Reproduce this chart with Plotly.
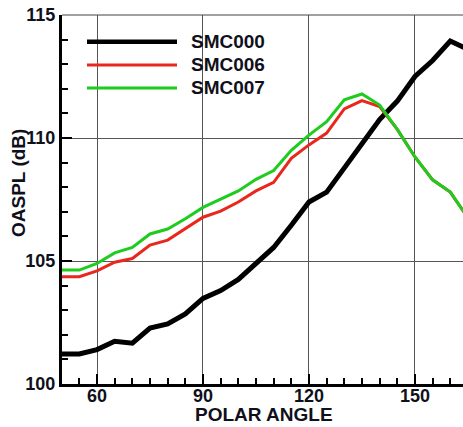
import plotly.graph_objects as go

polar_angle = [50, 55, 60, 65, 70, 75, 80, 85, 90, 95, 100, 105, 110, 115,
               120, 125, 130, 135, 140, 145, 150, 155, 160, 165]
smc000 = [101.22, 101.22, 101.4, 101.74, 101.66, 102.27, 102.44, 102.85, 103.48,
          103.8, 104.25, 104.9, 105.55, 106.45, 107.4, 107.8, 108.8, 109.8,
          110.75, 111.5, 112.5, 113.15, 113.94, 113.6]
smc006 = [104.36, 104.36, 104.6, 104.95, 105.1, 105.65, 105.85, 106.3, 106.78,
          107.03, 107.4, 107.85, 108.2, 109.17, 109.72, 110.2, 111.18, 111.52,
          111.28, 110.35, 109.23, 108.3, 107.8, 106.75]
smc007 = [104.63, 104.63, 104.9, 105.33, 105.55, 106.1, 106.3, 106.72, 107.18,
          107.5, 107.85, 108.32, 108.68, 109.5, 110.12, 110.66, 111.55, 111.79,
          111.34, 110.35, 109.23, 108.3, 107.8, 106.75]

series_names = ["SMC000", "SMC006", "SMC007"]
series_colors = ["#000000", "#e8281c", "#1ecc1e"]
series_widths = [5, 3, 3]
legend_widths = [4.5, 3, 3]
series_values = [smc000, smc006, smc007]

FONT = "Liberation Sans, Arial, sans-serif"
TXT = "#10101c"

W, H = 463, 427
L, R, T, B = 62, 0, 15, 43
pw, ph = W - L - R, H - T - B

fig = go.Figure()
for name, vals, col, lw in zip(series_names, series_values, series_colors, series_widths):
    fig.add_trace(go.Scatter(x=polar_angle, y=vals, mode="lines", name=name,
                             line=dict(color=col, width=lw), showlegend=False))

shapes = []
annotations = []
# top border line
shapes.append(dict(type="line", xref="paper", yref="paper", x0=0, x1=1, y0=1, y1=1,
                   line=dict(color="#444444", width=1.2)))
# manual legend
leg_y_px = [41.7, 65, 88]
for name, col, lw, ypx in zip(series_names, series_colors, legend_widths, leg_y_px):
    yp = (H - B - ypx) / ph
    shapes.append(dict(type="line", xref="paper", yref="paper",
                       x0=(87 - L) / pw, x1=(177 - L) / pw, y0=yp, y1=yp,
                       line=dict(color=col, width=lw)))
    annotations.append(dict(text=name, xref="paper", yref="paper",
                            x=(189 - L) / pw, y=yp, xanchor="left", yanchor="middle",
                            showarrow=False,
                            font=dict(family=FONT, size=19, color=TXT, weight="bold")))
annotations.append(dict(text="POLAR ANGLE", xref="paper", yref="paper",
                        x=(264 - L) / pw, y=(H - B - 414) / ph, xanchor="center",
                        yanchor="middle", showarrow=False,
                        font=dict(family=FONT, size=19, color=TXT, weight="bold")))
annotations.append(dict(text="OASPL (dB)", xref="paper", yref="paper",
                        x=(18 - L) / pw, y=(H - B - 183) / ph, xanchor="center",
                        yanchor="middle", textangle=-90, showarrow=False,
                        font=dict(family=FONT, size=19, color=TXT, weight="bold")))

fig.update_layout(
    width=W, height=H,
    margin=dict(l=L, r=R, t=T, b=B, pad=0),
    paper_bgcolor="white", plot_bgcolor="white",
    shapes=shapes, annotations=annotations,
    showlegend=False,
    xaxis=dict(range=[50.09, 163.6], tick0=0, dtick=30, showgrid=True,
               gridcolor="#555555", gridwidth=1, showline=True, linecolor="black",
               linewidth=3, ticks="inside", ticklen=10, tickwidth=2, tickcolor="black",
               minor=dict(tick0=0, dtick=5, ticks="inside", ticklen=6, tickwidth=1.5,
                          tickcolor="black", showgrid=False),
               tickfont=dict(family=FONT, size=18, color=TXT, weight="bold"),
               ticklabelstandoff=-7,
               zeroline=False),
    yaxis=dict(range=[100, 115], tick0=100, dtick=5, showgrid=True,
               gridcolor="#555555", gridwidth=1, showline=True, linecolor="black",
               linewidth=3, ticks="inside", ticklen=10, tickwidth=2, tickcolor="black",
               minor=dict(tick0=100, dtick=1, ticks="inside", ticklen=6, tickwidth=1.5,
                          tickcolor="black", showgrid=False),
               tickfont=dict(family=FONT, size=18, color=TXT, weight="bold"),
               zeroline=False),
)

fig.write_html("out.html")
